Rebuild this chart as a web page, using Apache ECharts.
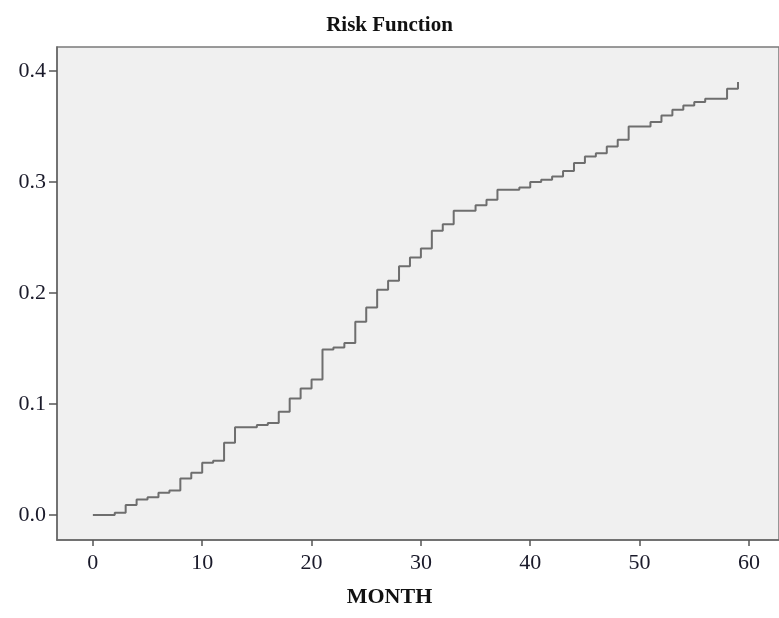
<!DOCTYPE html>
<html>
<head>
<meta charset="utf-8">
<title>Risk Function</title>
<script src="https://cdn.jsdelivr.net/npm/echarts@6/dist/echarts.min.js"></script>
<style>
    html, body { margin: 0; padding: 0; background: #fff; }
    #chart { width: 779px; height: 618px; }
</style>
</head>
<body>
<div id="chart"></div>
<script>
// months at which the risk function jumps, and the level after each jump
var months = [0, 2, 3, 4, 5, 6, 7, 8, 9, 10, 11, 12, 13, 15, 16, 17, 18, 19, 20,
    21, 22, 23, 24, 25, 26, 27, 28, 29, 30, 31, 32, 33, 35, 36, 37, 39, 40, 41,
    42, 43, 44, 45, 46, 47, 48, 49, 51, 52, 53, 54, 55, 56, 58, 59];
var risk = [0.000, 0.002, 0.009, 0.014, 0.016, 0.020, 0.022, 0.033, 0.038, 0.047,
    0.049, 0.065, 0.079, 0.081, 0.083, 0.093, 0.105, 0.114, 0.122, 0.149, 0.151,
    0.155, 0.174, 0.187, 0.203, 0.211, 0.224, 0.232, 0.240, 0.256, 0.262, 0.274,
    0.279, 0.284, 0.293, 0.295, 0.300, 0.302, 0.305, 0.310, 0.317, 0.323, 0.326,
    0.332, 0.338, 0.350, 0.354, 0.360, 0.365, 0.369, 0.372, 0.375, 0.384, 0.390];
var xTicks = [0, 10, 20, 30, 40, 50, 60];
var yTicks = [0, 0.1, 0.2, 0.3, 0.4];

var serif = '"Liberation Serif", "DejaVu Serif", serif';

var points = [];
for (var i = 0; i < months.length; i++) {
    points.push([months[i], risk[i]]);
}

var chart = echarts.init(document.getElementById('chart'));

var option = {
    animation: false,
    backgroundColor: '#fff',
    title: [
        {
            text: 'Risk Function',
            left: 'center',
            top: 10,
            textStyle: { fontFamily: serif, fontSize: 21, fontWeight: 'bold', color: '#111' }
        },
        {
            text: 'MONTH',
            left: 'center',
            top: 581,
            textStyle: { fontFamily: serif, fontSize: 22, fontWeight: 'bold', color: '#111' }
        }
    ],
    grid: {
        left: 57,
        top: 47,
        right: -2,
        bottom: 78,
        show: true,
        backgroundColor: '#f0f0f0',
        borderColor: '#7a7a7a',
        borderWidth: 1.5
    },
    xAxis: {
        type: 'value',
        min: -3.28,
        max: 62.75,
        axisLine: { show: true, onZero: false, lineStyle: { color: '#666', width: 1.5 } },
        axisTick: { show: true, customValues: xTicks, length: 6, lineStyle: { color: '#555', width: 1.5 } },
        axisLabel: {
            customValues: xTicks,
            margin: 12,
            fontFamily: serif,
            fontSize: 22,
            color: '#1a1a2a'
        },
        splitLine: { show: false }
    },
    yAxis: {
        type: 'value',
        min: -0.0225,
        max: 0.4216,
        axisLine: { show: true, onZero: false, lineStyle: { color: '#666', width: 1.5 } },
        axisTick: { show: true, customValues: yTicks, length: 8, lineStyle: { color: '#555', width: 1.5 } },
        axisLabel: {
            customValues: yTicks,
            margin: 11,
            fontFamily: serif,
            fontSize: 22,
            color: '#1a1a2a',
            formatter: function (v) { return v.toFixed(1); }
        },
        splitLine: { show: false }
    },
    series: [
        {
            name: 'Risk',
            type: 'line',
            step: 'end',
            showSymbol: false,
            data: points,
            lineStyle: { color: '#6e6e6e', width: 2 }
        }
    ]
};

chart.setOption(option);
</script>
</body>
</html>
